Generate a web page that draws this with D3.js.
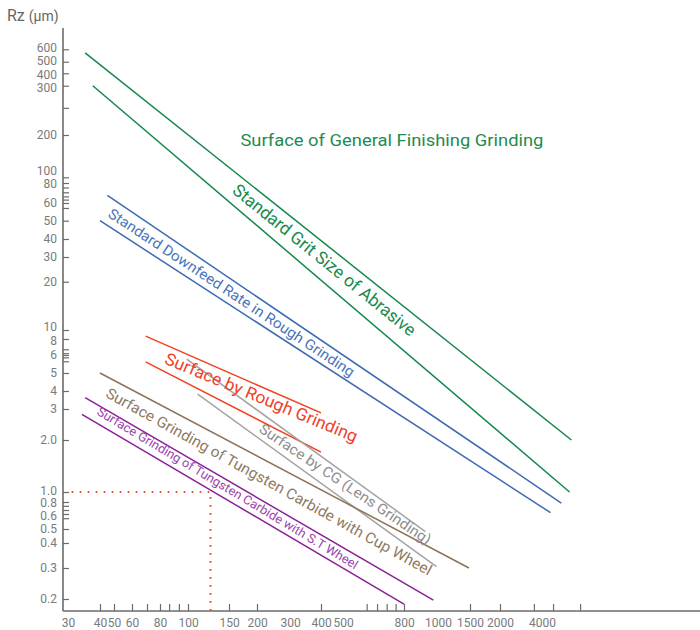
<!DOCTYPE html>
<html><head><meta charset="utf-8">
<script src="https://cdn.jsdelivr.net/npm/d3@7"></script>
<style>body{margin:0;background:#fff}svg{display:block}</style>
</head><body><svg id="c" width="700" height="630"></svg>
<script>
// ---------- data ----------
const xTickLabels = [30,40,50,60,80,100,150,200,300,400,500,800,1000,1500,2000,4000];
const xTickMarks  = [40,50,60,70,80,86,93,100,150,200,400,600,650,700,750,800,1500,2000,3500,4800,7500];
const yTickLabels = [600,500,400,300,200,100,80,60,50,40,30,20,10,8,6,5,4,3,2,1,0.8,0.6,0.5,0.4,0.3,0.2];
const yMinorTicks = [250,75,70,66,63,57,6.65,6.2,5.86,5.63,0.73,0.66,0.57];

const seriesGroup = ["grit","grit","downfeed","downfeed","rough","rough","cg","cg","cup","st","st"];
const seriesX  = [[35,6500],[37.5,6300],[45,5500],[40,4600],[69,400],[69,400],[99,920],[110,990],[40,1480],[35,970],[34,800]];
const seriesRz = [[570,2.0],[300,1.0],[67,0.78],[50,0.62],[8.6,2.85],[5.6,1.7],[5.75,0.48],[3.8,0.305],[5.0,0.3],[3.6,0.197],[2.8,0.187]];

const labelGroup = ["title","grit","downfeed","rough","cg","cup","st"];
const labelText  = ["Surface of General Finishing Grinding","Standard Grit Size of Abrasive",
  "Standard Downfeed Rate in Rough Grinding","Surface by Rough Grinding","Surface by CG (Lens Grinding)",
  "Surface Grinding of Tungsten Carbide with Cup Wheel","Surface Grinding of Tungsten Carbide with S.T Wheel"];
const labelX  = [729,414,154,211,509,232,148];
const labelRz = [167,28.6,17.1,3.61,1.113,1.15,1.055];

const refX = 125, refRz = 1.0, refStartX = 31;

// ---------- layout / style ----------
const labelLayout = [ // angle, length, font size
  {a:0,  L:303, fs:17,  mid:false},
  {a:39, L:230, fs:17.5,mid:true},
  {a:33.5,L:292,fs:14.5,mid:true},
  {a:22.5,L:207,fs:17,  mid:true},
  {a:34, L:204, fs:14.5,mid:true},
  {a:29, L:370, fs:15,  mid:true},
  {a:31, L:302, fs:12.5,mid:true}
];
const yLabelShift = {600:-2, 500:-1, 400:1, 300:2, 100:-7, 80:0.5, 10:-3, 8:1.5, 1:-1.5, 0.8:1, 0.6:1.5}; // nudges of crowded tick texts
const lineColor = {grit:"#14884a",downfeed:"#3d6bb3",rough:"#f2401f",cg:"#a3a3a3",cup:"#8b7358",st:"#8a2196"};
const textColor = {title:"#1e8c50",grit:"#1a8a4d",downfeed:"#4a75b8",rough:"#f0402a",cg:"#8d8d8d",cup:"#8e7a5f",st:"#9a44ac"};
const FONT = "Roboto, 'DejaVu Sans', sans-serif";
const axisColor = "#6b6b6b", tickTextColor = "#7a7a7a";
const axisLeftX = 63, axisBottomY = 611, axisTopY = 28, axisRightX = 700;

// piecewise log scales matching the printed (non-uniform) axis
const x = d3.scaleLog().domain(xTickLabels)
  .range([68,100,114,132,160,188,229,257,290,321,343,404,438,470,500,542]);
const y = d3.scaleLog().domain(yTickLabels.slice().sort((a,b)=>a-b))
  .range([599,568,543,529,514,502,492,440,409,391,373,355,339,330,281.7,257,239,220.7,203,183,177.3,135,85.7,73.3,61.7,49.3]);

const svg = d3.select("#c");

// axes lines
svg.append("line").attr("x1",axisLeftX).attr("x2",axisLeftX).attr("y1",axisTopY).attr("y2",axisBottomY)
  .attr("stroke",axisColor).attr("stroke-width",1.6);
svg.append("line").attr("x1",axisLeftX).attr("x2",axisRightX).attr("y1",axisBottomY).attr("y2",axisBottomY)
  .attr("stroke",axisColor).attr("stroke-width",1.6);

function styleAxis(g){
  g.select(".domain").remove();
  g.selectAll(".tick line").attr("stroke",axisColor).attr("stroke-width",1.2);
  g.selectAll("text").attr("fill",tickTextColor).style("font-family",FONT).style("font-size","12px");
}
const yFmt = d => (d===2||d===1) ? d.toFixed(1) : String(d);
svg.append("g").attr("transform",`translate(${axisLeftX},0)`)
  .call(d3.axisLeft(y).tickValues(yTickLabels).tickSize(-6).tickPadding(6).tickFormat(yFmt)).call(styleAxis)
  .selectAll(".tick text").attr("y", d => yLabelShift[d] || 0);
svg.append("g").attr("transform",`translate(${axisLeftX},0)`)
  .call(d3.axisLeft(y).tickValues(yMinorTicks).tickSize(-6).tickFormat("")).call(styleAxis);
svg.append("g").attr("transform",`translate(0,${axisBottomY})`)
  .call(d3.axisBottom(x).tickValues(xTickMarks).tickSize(-7).tickFormat("")).call(styleAxis);
svg.append("g").attr("transform",`translate(0,${axisBottomY})`)
  .call(d3.axisBottom(x).tickValues(xTickLabels).tickSize(0).tickPadding(7).tickFormat(d=>String(d))).call(styleAxis);

// y title
const yt = svg.append("text").attr("x",7).attr("y",21).attr("fill","#666").style("font-family",FONT);
yt.append("tspan").text("Rz").style("font-size","16px");
yt.append("tspan").attr("dx",4).text("(μm)").style("font-size","14px");

// reference dotted lines
svg.append("path")
  .attr("d", d3.line()([[x(refStartX),y(refRz)],[x(refX),y(refRz)],[x(refX),axisBottomY]]))
  .attr("fill","none").attr("stroke","#f04a2a").attr("stroke-width",2)
  .attr("stroke-dasharray","1.6,6.4");

// series lines
const line = d3.line();
seriesX.forEach((xs,i)=>{
  svg.append("path")
    .attr("d", line(xs.map((v,k)=>[x(v), y(seriesRz[i][k])])))
    .attr("fill","none").attr("stroke",lineColor[seriesGroup[i]]).attr("stroke-width",1.5);
});

// labels
labelText.forEach((t,i)=>{
  const lay = labelLayout[i];
  svg.append("text")
    .attr("transform",`translate(${x(labelX[i])},${y(labelRz[i])}) rotate(${lay.a})`)
    .attr("text-anchor","middle")
    .attr("dy", lay.mid ? "0.35em" : 0)
    .attr("textLength", lay.L).attr("lengthAdjust","spacingAndGlyphs")
    .attr("fill", textColor[labelGroup[i]])
    .style("font-family",FONT).style("font-size",lay.fs+"px")
    .text(t);
});
</script></body></html>
